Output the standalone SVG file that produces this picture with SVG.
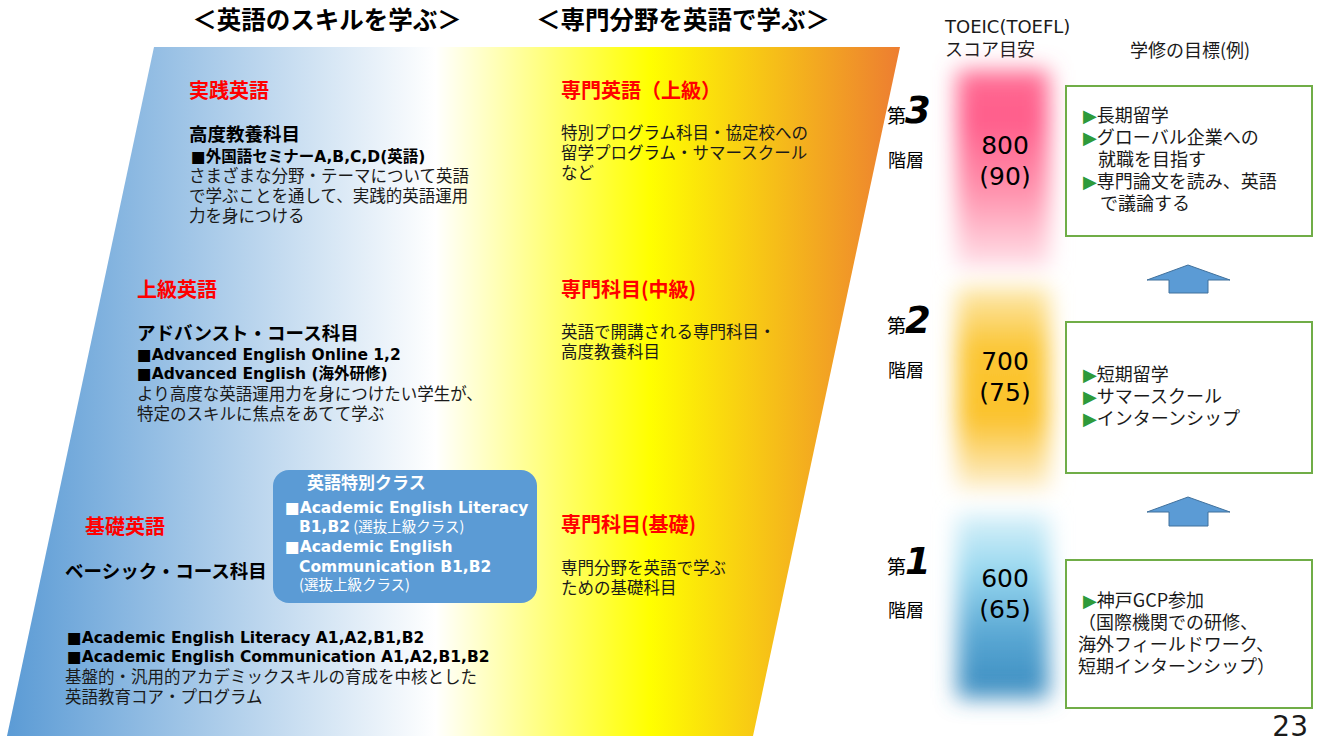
<svg xmlns="http://www.w3.org/2000/svg" width="1319" height="742" viewBox="0 0 1319 742">
<style>
text { font-family: "Noto Sans CJK JP", sans-serif; fill: #1a1a1a; }
.lat { font-family: "DejaVu Sans", "Noto Sans CJK JP", sans-serif; }
.h1 { font-size: 24.5px; font-weight: bold; fill: #000; }
.red { font-size: 20px; font-weight: bold; fill: #ff0000; }
.sub { font-size: 18.5px; font-weight: bold; fill: #000; }
.bl { font-size: 15.5px; font-weight: bold; fill: #000; }
.body { font-size: 16.5px; }
.w { fill: #ffffff; }
.hdr { font-size: 18px; }
.num { font-size: 25px; text-anchor: middle; fill: #000; }
.dai { font-size: 19px; fill: #000; }
.big { font-family: "DejaVu Sans", sans-serif; font-size: 37px; font-weight: bold; font-style: italic; fill: #000; }
.kai { font-size: 18px; fill: #000; }
.goal { fill: #ffffff; stroke: #70ad47; stroke-width: 2; }
.gt { font-size: 18px; fill: #1a1a1a; }
.tri { fill: #2e9a3a; }
.arrow { fill: #5b9bd5; stroke: #41719c; stroke-width: 1; }
</style>
<defs>
<linearGradient id="band" gradientUnits="userSpaceOnUse" x1="7" y1="0" x2="900" y2="0">
<stop offset="0" stop-color="#5b9bd5"/>
<stop offset="0.48" stop-color="#ffffff"/>
<stop offset="0.72" stop-color="#ffff00"/>
<stop offset="1" stop-color="#ed7d31"/>
</linearGradient>
<linearGradient id="gPink" x1="0" y1="0" x2="0" y2="1">
<stop offset="0" stop-color="#ff6d94"/>
<stop offset="0.25" stop-color="#ff5c8a"/>
<stop offset="0.6" stop-color="#ff8fab"/>
<stop offset="1" stop-color="#ffe3ea"/>
</linearGradient>
<linearGradient id="gGold" x1="0" y1="0" x2="0" y2="1">
<stop offset="0" stop-color="#fde9b0"/>
<stop offset="0.3" stop-color="#fbc633"/>
<stop offset="0.65" stop-color="#fbc22a"/>
<stop offset="1" stop-color="#fdf0d2"/>
</linearGradient>
<linearGradient id="gBlue" x1="0" y1="0" x2="0" y2="1">
<stop offset="0" stop-color="#d9f1f9"/>
<stop offset="0.3" stop-color="#9ad9f0"/>
<stop offset="0.65" stop-color="#5aa8d4"/>
<stop offset="1" stop-color="#3a8bbf"/>
</linearGradient>
<filter id="soft" x="-50%" y="-25%" width="200%" height="150%">
<feGaussianBlur stdDeviation="11"/>
</filter>
</defs>

<rect width="1319" height="742" fill="#ffffff"/>

<g id="band-bg">
<path d="M154,47 L900,47 L753,736 L7,736 Z" fill="url(#band)"/>
</g>

<g id="titles">
<text class="h1" x="327" y="29" text-anchor="middle">＜英語のスキルを学ぶ＞</text>
<text class="h1" x="683" y="29" text-anchor="middle">＜専門分野を英語で学ぶ＞</text>
</g>

<g id="sec-practical">
<text class="red" x="189" y="98">実践英語</text>
<text class="sub" x="189" y="141">高度教養科目</text>
<text class="bl lat" x="191" y="162">■外国語セミナーA,B,C,D(英語)</text>
<text class="body" x="189" y="182">さまざまな分野・テーマについて英語</text>
<text class="body" x="189" y="202">で学ぶことを通して、実践的英語運用</text>
<text class="body" x="189" y="222">力を身につける</text>
</g>

<g id="sec-advanced">
<text class="red" x="137" y="297">上級英語</text>
<text class="sub" x="137" y="340">アドバンスト・コース科目</text>
<text class="bl lat" x="137" y="360">■Advanced English Online 1,2</text>
<text class="bl lat" x="137" y="379">■Advanced English (海外研修)</text>
<text class="body" x="137" y="400">より高度な英語運用力を身につけたい学生が、</text>
<text class="body" x="137" y="420">特定のスキルに焦点をあてて学ぶ</text>
</g>

<g id="sec-basic">
<text class="red" x="85" y="534">基礎英語</text>
<text class="sub" x="65" y="578">ベーシック・コース科目</text>
<text class="bl lat" x="67" y="643">■Academic English Literacy A1,A2,B1,B2</text>
<text class="bl lat" x="67" y="662">■Academic English Communication A1,A2,B1,B2</text>
<text class="body" x="65" y="683">基盤的・汎用的アカデミックスキルの育成を中核とした</text>
<text class="body" x="65" y="703">英語教育コア・プログラム</text>
</g>

<g id="special-class">
<rect x="273" y="470" width="264" height="133" rx="16" fill="#5b9bd5"/>
<text class="w" x="307" y="489" font-size="17" font-weight="bold">英語特別クラス</text>
<text class="lat w" x="285" y="513" font-size="15.5" font-weight="bold">■Academic English Literacy</text>
<text class="lat w" x="299" y="532" font-size="15.5"><tspan font-weight="bold">B1,B2</tspan><tspan font-family="Noto Sans CJK JP, sans-serif" font-size="14.5"> (選抜上級クラス)</tspan></text>
<text class="lat w" x="285" y="552" font-size="15.5" font-weight="bold">■Academic English</text>
<text class="lat w" x="299" y="572" font-size="15.5" font-weight="bold">Communication B1,B2</text>
<text class="w" x="299" y="590" font-size="14.5">(選抜上級クラス)</text>
</g>

<g id="spec-advanced">
<text class="red" x="561" y="98">専門英語（上級）</text>
<text class="body" x="561" y="139">特別プログラム科目・協定校への</text>
<text class="body" x="561" y="159">留学プログラム・サマースクール</text>
<text class="body" x="561" y="179">など</text>
</g>

<g id="spec-intermediate">
<text class="red" x="561" y="297">専門科目(中級)</text>
<text class="body" x="561" y="338">英語で開講される専門科目・</text>
<text class="body" x="561" y="358">高度教養科目</text>
</g>

<g id="spec-basic">
<text class="red" x="561" y="532">専門科目(基礎)</text>
<text class="body" x="561" y="574">専門分野を英語で学ぶ</text>
<text class="body" x="561" y="594">ための基礎科目</text>
</g>

<g id="headers">
<text class="lat hdr" x="945" y="33">TOEIC(TOEFL)</text>
<text class="hdr" x="945" y="56" font-size="18.5">スコア目安</text>
<text class="hdr" x="1130" y="57">学修の目標(例)</text>
</g>

<g id="score-blocks">
<rect x="957" y="70" width="92" height="198" fill="url(#gPink)" filter="url(#soft)"/>
<rect x="957" y="287" width="92" height="202" fill="url(#gGold)" filter="url(#soft)"/>
<rect x="957" y="514" width="92" height="184" fill="url(#gBlue)" filter="url(#soft)"/>
</g>

<g id="level-3">
<text class="dai" x="887" y="123">第</text>
<text class="big" x="905" y="123">3</text>
<text class="kai" x="888" y="167">階層</text>
<text class="num lat" x="1005" y="154">800</text>
<text class="num lat" x="1005" y="185">(90)</text>
</g>

<g id="level-2">
<text class="dai" x="887" y="333">第</text>
<text class="big" x="905" y="333">2</text>
<text class="kai" x="888" y="377">階層</text>
<text class="num lat" x="1005" y="370">700</text>
<text class="num lat" x="1005" y="401">(75)</text>
</g>

<g id="level-1">
<text class="dai" x="887" y="574">第</text>
<text class="big" x="905" y="574">1</text>
<text class="kai" x="888" y="617">階層</text>
<text class="num lat" x="1005" y="587">600</text>
<text class="num lat" x="1005" y="618">(65)</text>
</g>

<g id="goal-3">
<rect class="goal" x="1066" y="86" width="246" height="150"/>
<text class="gt lat" x="1083" y="122"><tspan class="tri">▶</tspan><tspan font-family="Noto Sans CJK JP, sans-serif">長期留学</tspan></text>
<text class="gt lat" x="1083" y="144"><tspan class="tri">▶</tspan><tspan font-family="Noto Sans CJK JP, sans-serif">グローバル企業への</tspan></text>
<text class="gt" x="1098" y="166">就職を目指す</text>
<text class="gt lat" x="1083" y="188"><tspan class="tri">▶</tspan><tspan font-family="Noto Sans CJK JP, sans-serif">専門論文を読み、英語</tspan></text>
<text class="gt" x="1100" y="210">で議論する</text>
</g>

<g id="goal-2">
<rect class="goal" x="1066" y="322" width="246" height="151"/>
<text class="gt lat" x="1083" y="381"><tspan class="tri">▶</tspan><tspan font-family="Noto Sans CJK JP, sans-serif">短期留学</tspan></text>
<text class="gt lat" x="1083" y="403"><tspan class="tri">▶</tspan><tspan font-family="Noto Sans CJK JP, sans-serif">サマースクール</tspan></text>
<text class="gt lat" x="1083" y="425"><tspan class="tri">▶</tspan><tspan font-family="Noto Sans CJK JP, sans-serif">インターンシップ</tspan></text>
</g>

<g id="goal-1">
<rect class="goal" x="1066" y="560" width="246" height="148"/>
<text class="gt lat" x="1083" y="607" font-size="17"><tspan class="tri">▶</tspan><tspan font-family="Noto Sans CJK JP, sans-serif">神戸GCP参加</tspan></text>
<text class="gt" x="1078" y="629" font-size="17">（国際機関での研修、</text>
<text class="gt" x="1078" y="651" font-size="17">海外フィールドワーク、</text>
<text class="gt" x="1078" y="673" font-size="17">短期インターンシップ）</text>
</g>

<g id="connectors">
<polygon class="arrow" points="1188,265 1230,280 1208,280 1208,293 1169,293 1169,280 1147,280"/>
<polygon class="arrow" points="1188,497 1230,512 1208,512 1208,526 1169,526 1169,512 1147,512"/>
</g>

<g id="page-number">
<text class="lat" x="1308" y="736" font-size="28" text-anchor="end" fill="#000">23</text>
</g>
</svg>
